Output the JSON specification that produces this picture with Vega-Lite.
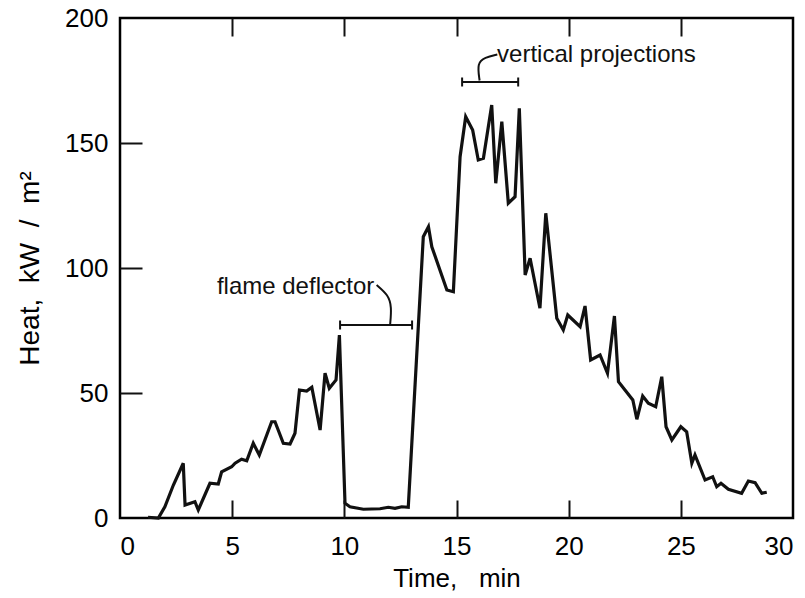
{
  "$schema": "https://vega.github.io/schema/vega-lite/v6.json",
  "width": 673,
  "height": 500,
  "autosize": "none",
  "padding": {"left": 120, "top": 18, "right": 12, "bottom": 80},
  "background": "white",
  "config": {
    "view": {"stroke": "black", "strokeWidth": 2.5},
    "font": "Liberation Sans",
    "axis": {"grid": false, "domain": false, "ticks": false, "labelColor": "black", "titleColor": "black", "labelFontSize": 26, "titleFontSize": 26, "titleFontWeight": "normal"}
  },
  "datasets": {
    "heat": [
      {"t": 1.25, "v": 0.3}, {"t": 1.71, "v": 0}, {"t": 2.0, "v": 4.5}, {"t": 2.38, "v": 13.2}, {"t": 2.82, "v": 21.9},
      {"t": 2.9, "v": 5.2}, {"t": 3.34, "v": 6.5}, {"t": 3.49, "v": 3.2}, {"t": 4.01, "v": 13.9}, {"t": 4.38, "v": 13.6},
      {"t": 4.53, "v": 18.5}, {"t": 4.98, "v": 20.5}, {"t": 5.13, "v": 21.9}, {"t": 5.42, "v": 23.5}, {"t": 5.65, "v": 22.9},
      {"t": 5.94, "v": 29.9}, {"t": 6.21, "v": 25.2}, {"t": 6.76, "v": 38.5}, {"t": 6.91, "v": 38.5}, {"t": 7.28, "v": 29.9},
      {"t": 7.58, "v": 29.6}, {"t": 7.8, "v": 33.9}, {"t": 8.0, "v": 51.2}, {"t": 8.32, "v": 50.8}, {"t": 8.55, "v": 52.3},
      {"t": 8.92, "v": 35.2}, {"t": 9.14, "v": 57.9}, {"t": 9.33, "v": 51.9}, {"t": 9.63, "v": 55.2}, {"t": 9.78, "v": 73.2},
      {"t": 10.03, "v": 5.9}, {"t": 10.25, "v": 4.5}, {"t": 10.85, "v": 3.5}, {"t": 11.59, "v": 3.7}, {"t": 11.96, "v": 4.3},
      {"t": 12.26, "v": 3.9}, {"t": 12.56, "v": 4.5}, {"t": 12.85, "v": 4.3}, {"t": 13.52, "v": 112.5}, {"t": 13.75, "v": 116.5},
      {"t": 13.9, "v": 108.5}, {"t": 14.57, "v": 91.2}, {"t": 14.86, "v": 90.5}, {"t": 15.16, "v": 144.5}, {"t": 15.41, "v": 160.5},
      {"t": 15.72, "v": 155.2}, {"t": 15.97, "v": 143.2}, {"t": 16.2, "v": 143.9}, {"t": 16.57, "v": 165.2}, {"t": 16.75, "v": 133.9},
      {"t": 17.02, "v": 158.5}, {"t": 17.31, "v": 125.9}, {"t": 17.61, "v": 128.5}, {"t": 17.8, "v": 163.9}, {"t": 18.06, "v": 97.2},
      {"t": 18.28, "v": 103.9}, {"t": 18.72, "v": 83.9}, {"t": 18.98, "v": 121.9}, {"t": 19.47, "v": 79.9}, {"t": 19.76, "v": 75.2},
      {"t": 19.96, "v": 81.2}, {"t": 20.51, "v": 76.5}, {"t": 20.73, "v": 84.8}, {"t": 20.98, "v": 63.2}, {"t": 21.4, "v": 65.2},
      {"t": 21.73, "v": 57.9}, {"t": 22.04, "v": 80.8}, {"t": 22.22, "v": 54.5}, {"t": 22.86, "v": 47.2}, {"t": 23.04, "v": 39.5},
      {"t": 23.3, "v": 48.8}, {"t": 23.55, "v": 45.9}, {"t": 23.88, "v": 44.5}, {"t": 24.15, "v": 56.5}, {"t": 24.34, "v": 36.5},
      {"t": 24.6, "v": 31.2}, {"t": 25.0, "v": 36.5}, {"t": 25.26, "v": 34.5}, {"t": 25.49, "v": 21.9}, {"t": 25.63, "v": 25.2},
      {"t": 26.08, "v": 15.2}, {"t": 26.42, "v": 16.5}, {"t": 26.6, "v": 12.5}, {"t": 26.79, "v": 13.9}, {"t": 27.12, "v": 11.5},
      {"t": 27.71, "v": 9.9}, {"t": 28.01, "v": 14.8}, {"t": 28.31, "v": 14.1}, {"t": 28.61, "v": 9.9}, {"t": 28.83, "v": 10.3}
    ],
    "segments": [
      {"seg": "a", "t": 9.81, "v": 77.2}, {"seg": "a", "t": 13.02, "v": 77.2},
      {"seg": "a1", "t": 9.81, "v": 75.4}, {"seg": "a1", "t": 9.81, "v": 79.0},
      {"seg": "a2", "t": 13.02, "v": 75.4}, {"seg": "a2", "t": 13.02, "v": 79.0},
      {"seg": "b", "t": 15.25, "v": 174.4}, {"seg": "b", "t": 17.75, "v": 174.4},
      {"seg": "b1", "t": 15.25, "v": 172.6}, {"seg": "b1", "t": 15.25, "v": 176.2},
      {"seg": "b2", "t": 17.75, "v": 172.6}, {"seg": "b2", "t": 17.75, "v": 176.2}
    ],
    "connectors": [
      {"c": "a", "i": 1, "t": 11.44, "v": 93.2}, {"c": "a", "i": 2, "t": 11.96, "v": 89.2}, {"c": "a", "i": 3, "t": 12.11, "v": 84.5}, {"c": "a", "i": 4, "t": 12.04, "v": 77.2},
      {"c": "b", "i": 1, "t": 16.03, "v": 175.0}, {"c": "b", "i": 2, "t": 15.92, "v": 182.0}, {"c": "b", "i": 3, "t": 16.26, "v": 184.2}, {"c": "b", "i": 4, "t": 16.82, "v": 185.4}
    ],
    "labels": [
      {"t": 4.32, "v": 92.4, "label": "flame deflector"},
      {"t": 16.81, "v": 185.2, "label": "vertical projections"}
    ]
  },
  "resolve": {"axis": {"x": "independent", "y": "independent"}},
  "layer": [
    {
      "data": {"name": "heat"},
      "mark": {"type": "line", "color": "#111", "strokeWidth": 3.2, "strokeJoin": "miter"},
      "encoding": {
        "x": {"field": "t", "type": "quantitative", "scale": {"domain": [0, 30], "nice": false},
          "axis": {"orient": "bottom", "values": [0, 5, 10, 15, 20, 25, 30], "labelPadding": 15, "title": "Time,\u00a0\u00a0\u00a0min", "titlePadding": 6}},
        "y": {"field": "v", "type": "quantitative", "scale": {"domain": [0, 200], "nice": false},
          "axis": {"orient": "left", "values": [0, 50, 100, 150, 200], "labelPadding": 12, "title": "Heat,\u00a0 kW\u00a0 /\u00a0 m²", "titleFontSize": 28, "titlePadding": 20}}
      }
    },
    {
      "data": {"name": "segments"},
      "mark": {"type": "line", "color": "#111", "strokeWidth": 2},
      "encoding": {
        "x": {"field": "t", "type": "quantitative",
          "axis": {"orient": "top", "values": [5, 10, 15, 20, 25], "labels": false, "title": null, "ticks": true, "tickSize": 18, "tickWidth": 2, "tickColor": "#111", "offset": -18}},
        "y": {"field": "v", "type": "quantitative",
          "axis": {"orient": "right", "values": [50, 100, 150], "labels": false, "title": null, "ticks": false}},
        "detail": {"field": "seg"}
      }
    },
    {
      "data": {"name": "connectors"},
      "mark": {"type": "line", "color": "#111", "strokeWidth": 2, "interpolate": "basis"},
      "encoding": {
        "x": {"field": "t", "type": "quantitative",
          "axis": {"orient": "bottom", "values": [5, 10, 15, 20, 25], "labels": false, "title": null, "ticks": true, "tickSize": 18, "tickWidth": 2, "tickColor": "#111", "offset": -18}},
        "y": {"field": "v", "type": "quantitative",
          "axis": {"orient": "left", "values": [50, 100, 150], "labels": false, "title": null, "ticks": true, "tickSize": 22, "tickWidth": 2, "tickColor": "#111", "offset": -22}},
        "detail": {"field": "c"},
        "order": {"field": "i"}
      }
    },
    {
      "data": {"name": "labels"},
      "mark": {"type": "text", "align": "left", "baseline": "middle", "fontSize": 24, "color": "#111", "font": "Liberation Sans"},
      "encoding": {
        "x": {"field": "t", "type": "quantitative", "axis": null},
        "y": {"field": "v", "type": "quantitative", "axis": null},
        "text": {"field": "label"}
      }
    }
  ]
}
